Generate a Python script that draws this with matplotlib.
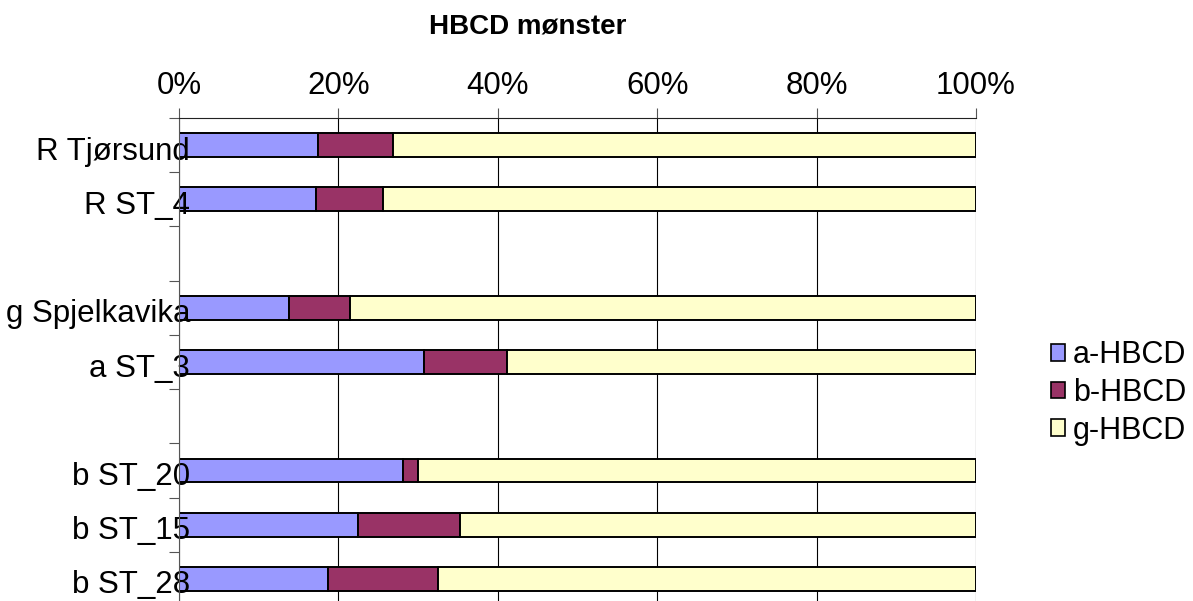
import numpy as np
import matplotlib
matplotlib.use("Agg")
import matplotlib.pyplot as plt
import matplotlib.transforms as mtransforms
from matplotlib.patches import Patch

plt.rcParams['font.family'] = ['Liberation Sans', 'DejaVu Sans']

# Kategorier ovenfra og ned (None = tom rad mellom gruppene)
stasjoner = ['R Tjørsund', 'R ST_4', None, 'g Spjelkavika', 'a ST_3', None,
             'b ST_20', 'b ST_15', 'b ST_28']
# andeler i prosent for hver stasjon
a_hbcd = [17.4, 17.2, 13.8, 30.7, 28.1, 22.5, 18.7]
b_hbcd = [9.4, 8.4, 7.7, 10.4, 1.9, 12.8, 13.8]
g_hbcd = [100 - a - b for a, b in zip(a_hbcd, b_hbcd)]

serier = ['a-HBCD', 'b-HBCD', 'g-HBCD']
farger = ['#9999FF', '#993366', '#FFFFCC']
x_ticks = [0, 20, 40, 60, 80, 100]

pos = [i for i, s in enumerate(stasjoner) if s is not None]
navn = [s for s in stasjoner if s is not None]

fig = plt.figure(figsize=(11.93, 6.01), dpi=100)
ax = fig.add_axes([179 / 1193, -5 / 601, (976 - 179) / 1193, (606 - 118) / 601])

a = np.array(a_hbcd) / 100
b = np.array(b_hbcd) / 100
g = np.array(g_hbcd) / 100
hoyde = 0.44
# gridlinjer under stolpene, aksetekst over
for t in x_ticks:
    ax.axvline(t / 100, color='black', linewidth=0.8, zorder=0.5)
ax.barh(pos, a, height=hoyde, color=farger[0], edgecolor='black', linewidth=1.4, zorder=1)
ax.barh(pos, b, left=a, height=hoyde, color=farger[1], edgecolor='black', linewidth=1.4, zorder=1)
ax.barh(pos, g, left=a + b, height=hoyde, color=farger[2], edgecolor='black', linewidth=1.4, zorder=1)

ax.set_xlim(0, 1)
ax.set_ylim(len(stasjoner) - 0.5, -0.5)

ax.xaxis.tick_top()
ax.set_xticks([t / 100 for t in x_ticks])
ax.set_xticklabels([f'{t}%' for t in x_ticks])
ax.tick_params(axis='x', which='major', top=True, bottom=False, length=7, width=0.8,
               color='#555555', pad=5, labelsize=22.5)

ax.set_yticks(pos)
ax.set_yticklabels(navn)
ax.tick_params(axis='y', which='major', length=0, pad=-8, labelsize=22.5)
ax.set_yticks(np.arange(-0.5, len(stasjoner), 1.0), minor=True)
ax.tick_params(axis='y', which='minor', length=7, width=0.8, color='#555555')
# litt lavere plassering av kategorinavn
ned = mtransforms.ScaledTranslation(0, -3 / 100, fig.dpi_scale_trans)
for lbl in ax.get_yticklabels():
    lbl.set_transform(lbl.get_transform() + ned)

for s in ['right', 'bottom']:
    ax.spines[s].set_visible(False)
ax.spines['top'].set_color('#222222')
ax.spines['top'].set_linewidth(0.8)
ax.spines['left'].set_color('#555555')
ax.spines['left'].set_linewidth(0.8)

fig.text(528 / 1193, 1 - 27 / 601, 'HBCD mønster', ha='center', va='center',
         fontsize=20, fontweight='bold')

handles = [Patch(facecolor=c, edgecolor='black', linewidth=1.2) for c in farger]
fig.legend(handles, serier, loc='center left', bbox_to_anchor=(1051 / 1193, 1 - 393 / 601),
           frameon=False, fontsize=22, handlelength=0.46, handleheight=0.46,
           handletextpad=0.25, labelspacing=0.25, borderpad=0, borderaxespad=0)

fig.savefig('out.png', dpi=100)
